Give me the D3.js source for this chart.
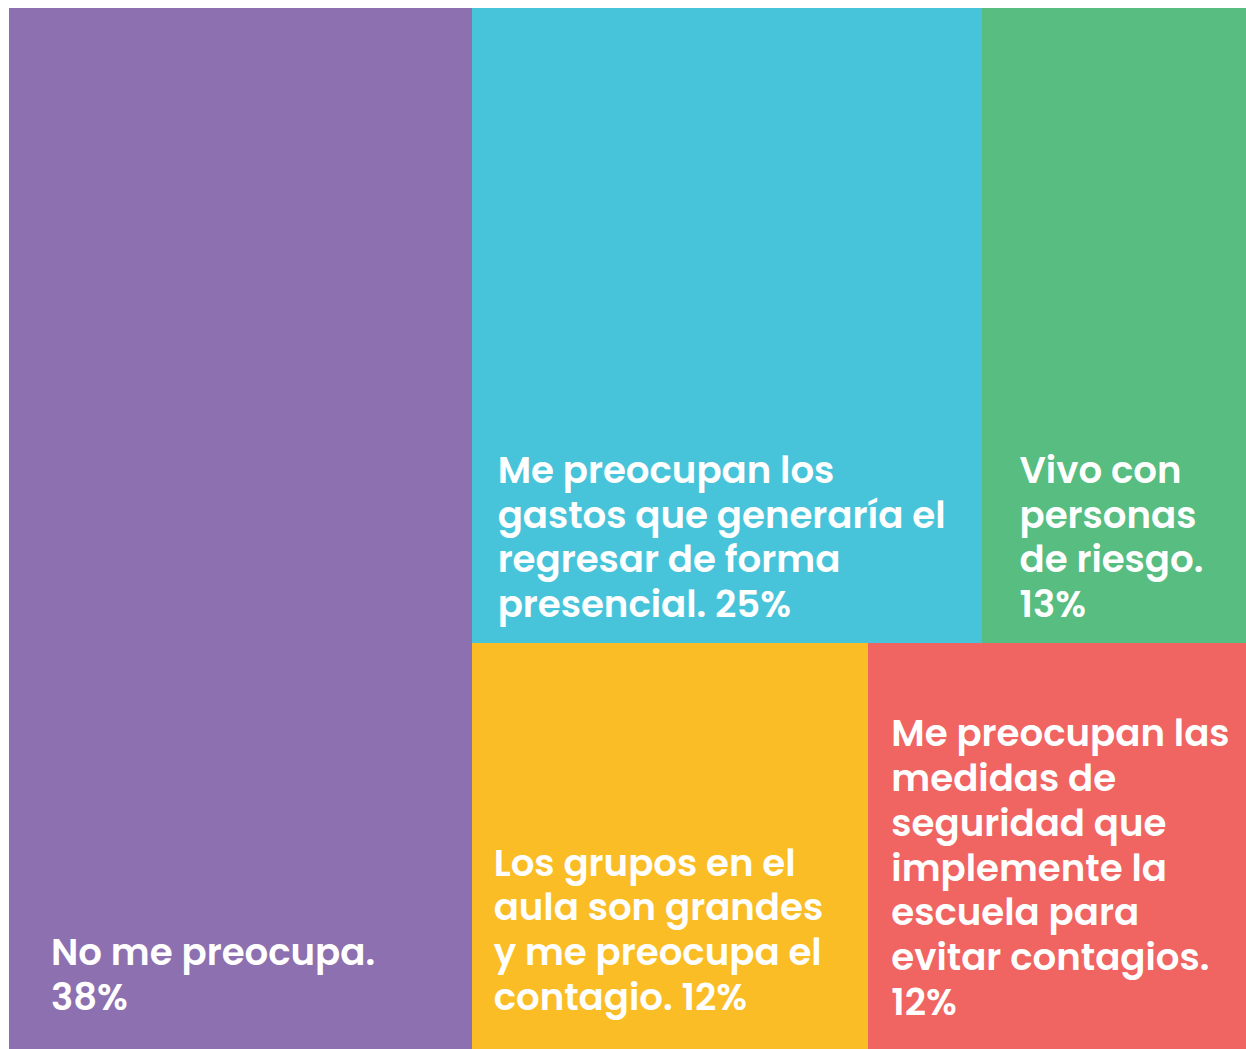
<!DOCTYPE html>
<html>
<head>
<meta charset="utf-8">
<script src="https://cdn.jsdelivr.net/npm/d3@7"></script>
<style>
  html, body { margin: 0; padding: 0; background: #ffffff; }
  svg { display: block; }
  text { font-family: "Poppins", "Inter", "Noto Sans", sans-serif; font-weight: 600; fill: #ffffff; }
</style>
</head>
<body>
<svg id="chart" width="1246" height="1049"></svg>
<script>
// ---- data ----
const categories = [
  "No me preocupa.",
  "Me preocupan los gastos que generaría el regresar de forma presencial.",
  "Vivo con personas de riesgo.",
  "Los grupos en el aula son grandes y me preocupa el contagio.",
  "Me preocupan las medidas de seguridad que implemente la escuela para evitar contagios."
];
const values = [37.4, 25.2, 13.0, 12.5, 11.9];           // area shares
const percentLabels = ["38%", "25%", "13%", "12%", "12%"];
const labelLines = [
  ["No me preocupa.", "38%"],
  ["Me preocupan los", "gastos que generaría el", "regresar de forma", "presencial. 25%"],
  ["Vivo con", "personas", "de riesgo.", "13%"],
  ["Los grupos en el", "aula son grandes", "y me preocupa el", "contagio. 12%"],
  ["Me preocupan las", "medidas de", "seguridad que", "implemente la", "escuela para", "evitar contagios.", "12%"]
];
const colors = ["#8d70b0", "#48c4da", "#57bd80", "#fbbd26", "#f06462"];

// ---- layout config (positions/styles) ----
const margin = { left: 9, top: 8 };
const W = 1246 - margin.left, H = 1049 - margin.top;
const labelPad = [
  { x: 42, bottom: 39 },
  { x: 26, bottom: 26 },
  { x: 37, bottom: 26 },
  { x: 22, bottom: 39 },
  { x: 23, bottom: 34 }
];
const lineHeight = 44.8;

// hierarchy: purple | (top: cyan, green / bottom: yellow, red)
const leaf = i => ({ i, name: categories[i], value: values[i] });
const treeData = {
  name: "root",
  children: [
    leaf(0),
    { name: "rest", children: [
      { name: "top", children: [leaf(1), leaf(2)] },
      { name: "bottom", children: [leaf(3), leaf(4)] }
    ]}
  ]
};

const root = d3.hierarchy(treeData).sum(d => d.value || 0);
d3.treemap().tile(d3.treemapSliceDice).size([W, H]).round(false)(root);

const svg = d3.select("#chart");
const g = svg.append("g").attr("transform", `translate(${margin.left},${margin.top})`);

const leaves = root.leaves();
g.selectAll("rect").data(leaves).join("rect")
  .attr("x", d => d.x0).attr("y", d => d.y0)
  .attr("width", d => d.x1 - d.x0).attr("height", d => d.y1 - d.y0)
  .attr("fill", d => colors[d.data.i])
  .attr("shape-rendering", "crispEdges");

// font size calibrated so the widest reference line matches ~448px
const probe = svg.append("text").attr("font-size", 34).text("gastos que generaría el");
const measured = probe.node().getComputedTextLength();
probe.remove();
const fontSize = Math.max(28, Math.min(38, 34 * 448 / measured));

leaves.forEach(d => {
  const i = d.data.i;
  const lines = labelLines[i];
  const pad = labelPad[i];
  const lastBase = d.y1 - pad.bottom;
  const t = g.append("text").attr("font-size", fontSize);
  lines.forEach((ln, k) => {
    t.append("tspan")
      .attr("x", d.x0 + pad.x)
      .attr("y", lastBase - (lines.length - 1 - k) * lineHeight)
      .text(ln);
  });
});
</script>
</body>
</html>
